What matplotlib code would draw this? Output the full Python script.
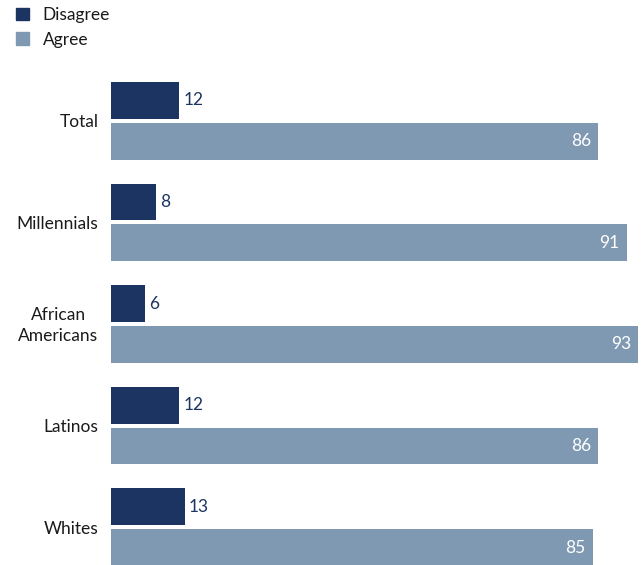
import numpy as np
import matplotlib.pyplot as plt
from matplotlib.patches import Patch

# Data
groups = ['Total', 'Millennials', 'African\nAmericans', 'Latinos', 'Whites']
disagree = [12, 8, 6, 12, 13]
agree = [86, 91, 93, 86, 85]

DARK = '#1c3461'
LIGHT = '#7f99b2'

plt.rcParams['font.family'] = ['Lato', 'DejaVu Sans']

W, H = 641, 565
fig = plt.figure(figsize=(W / 100, H / 100), dpi=100)

# axes placed in pixel terms
left, right = 111, 638
top, bottom = 70, 565
ax = fig.add_axes([left / W, 1 - bottom / H, (right - left) / W, (bottom - top) / H])

y = np.arange(len(groups))
off = 0.201
h = 0.363
ax.barh(y - off, disagree, height=h, color=DARK)
ax.barh(y + off, agree, height=h, color=LIGHT)

ax.set_xlim(0, 93)
ax.set_ylim(4 + 38 / 102, -0.5)

FS = 12.5
for i, (d, a) in enumerate(zip(disagree, agree)):
  ax.annotate(str(d), (d, i - off), xytext=(3, 0), textcoords='offset points',
              va='center', ha='left', fontsize=FS, color=DARK)
  ax.annotate(str(a), (a, i + off), xytext=(-5, 0), textcoords='offset points',
              va='center', ha='right', fontsize=FS, color='white')
  ax.annotate(groups[i], (0, i), xytext=(-9, -1), textcoords='offset points',
              va='center', ha='right', fontsize=FS, color='#1a1a1a',
              multialignment='center', linespacing=1.4)

ax.axis('off')

handles = [Patch(color=DARK, label='Disagree'), Patch(color=LIGHT, label='Agree')]
fig.legend(handles=handles, loc='upper left', bbox_to_anchor=(0.0, 1.015),
           frameon=False, fontsize=FS, handlelength=0.75, handleheight=0.75,
           handletextpad=0.8, labelspacing=0.5, labelcolor='#1a1a1a')

fig.savefig('out.png', dpi=100)
